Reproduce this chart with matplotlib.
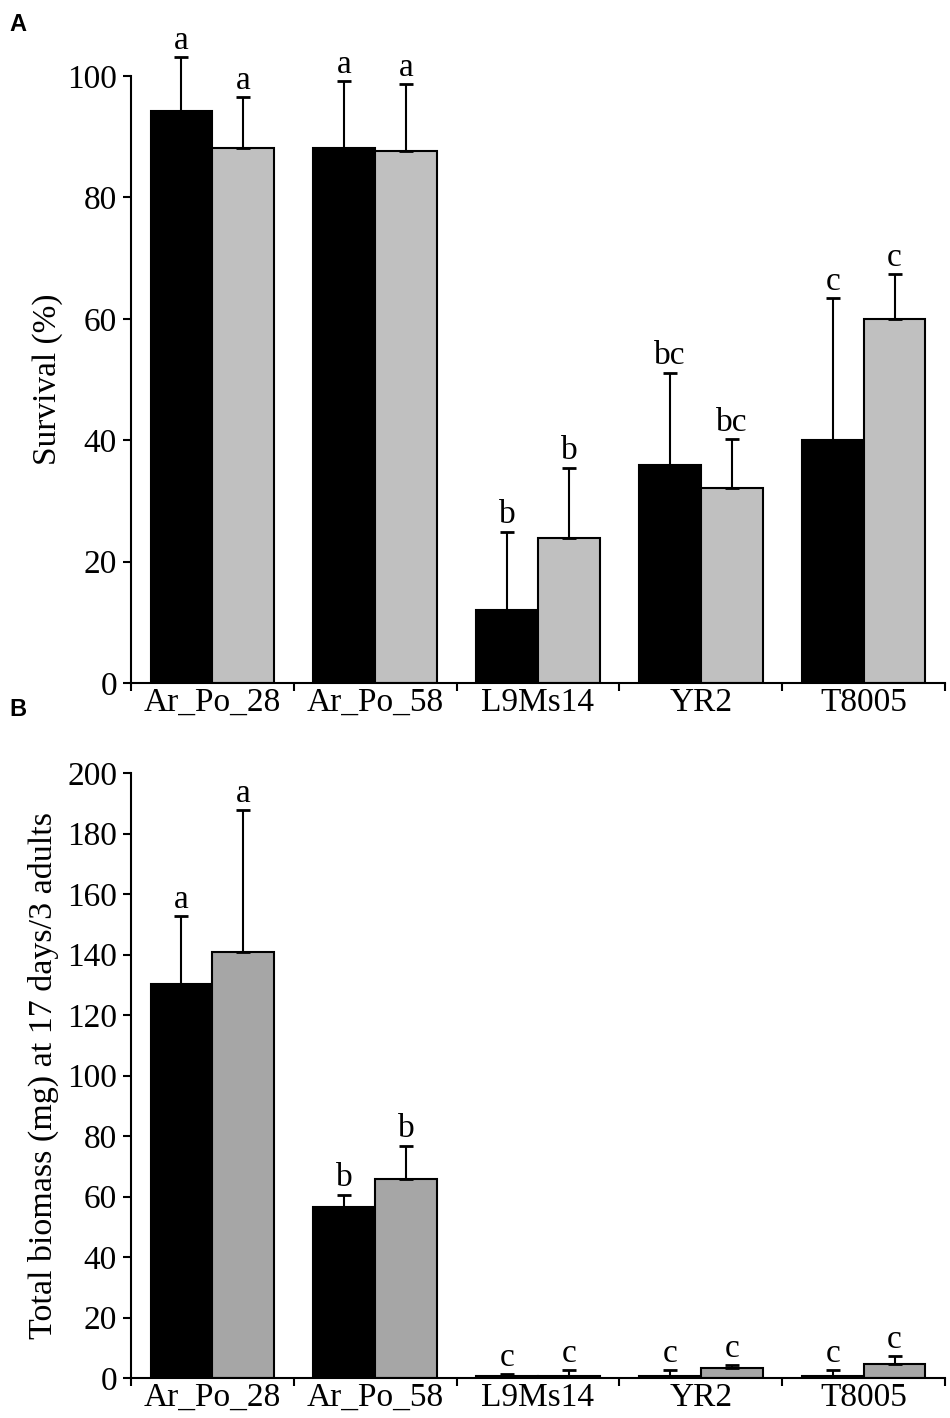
import matplotlib
matplotlib.use("Agg")
import matplotlib.pyplot as plt
import numpy as np

strains = ['Ar_Po_28', 'Ar_Po_58', 'L9Ms14', 'YR2', 'T8005']

surv_black = [94.3, 88.1, 12.0, 35.9, 40.0]
surv_black_err = [8.8, 11.0, 12.9, 15.2, 23.4]
surv_grey = [88.1, 87.7, 23.9, 32.1, 60.0]
surv_grey_err = [8.4, 10.9, 11.6, 8.1, 7.3]
surv_black_letters = ['a', 'a', 'b', 'bc', 'c']
surv_grey_letters = ['a', 'a', 'b', 'bc', 'c']

bio_black = [130.2, 56.6, 0.6, 0.8, 0.8]
bio_black_err = [22.5, 4.0, 0.6, 1.7, 1.7]
bio_grey = [140.7, 65.7, 0.8, 3.4, 4.6]
bio_grey_err = [47.1, 11.1, 1.8, 0.9, 2.7]
bio_black_letters = ['a', 'b', 'c', 'c', 'c']
bio_grey_letters = ['a', 'b', 'c', 'c', 'c']

serif = 'Liberation Serif'
plt.rcParams['font.family'] = [serif, 'DejaVu Serif']

W, H = 950, 1418
fig = plt.figure(figsize=(W / 100, H / 100), dpi=100)

axA = fig.add_axes([131 / W, 1 - 683 / H, (945 - 131) / W, (683 - 76) / H])
axB = fig.add_axes([131 / W, 1 - 1378 / H, (945 - 131) / W, (1378 - 773) / H])


def draw(ax, black, berr, grey, gerr, bl, gl, greycol, ymax, ystep, ylabel, labelpad, ylsize):
    x = np.arange(len(strains))
    w = 0.38
    ax.bar(x - w / 2, black, w, color='black', edgecolor='black', linewidth=1.5, zorder=2)
    ax.bar(x + w / 2, grey, w, color=greycol, edgecolor='black', linewidth=1.5, zorder=2)
    for xs, vals, errs, labs in [(x - w / 2, black, berr, bl), (x + w / 2, grey, gerr, gl)]:
        eb = ax.errorbar(xs, vals, yerr=[np.zeros(len(vals)), errs], fmt='none',
                         ecolor='black', elinewidth=1.5, capsize=5, capthick=2, zorder=3)
        for art in eb.get_children():
            art.set_clip_on(False)
        for xi, v, e, lab in zip(xs, vals, errs, labs):
            ax.annotate(lab, (xi, v + e), xytext=(0, 1), textcoords='offset points',
                        ha='center', va='bottom', fontsize=24, annotation_clip=False)
    ax.set_xlim(-0.5, len(strains) - 0.5)
    ax.set_ylim(0, ymax)
    ax.set_yticks(np.arange(0, ymax + 1, ystep))
    ax.set_xticks(x)
    ax.set_xticklabels(strains, fontsize=24)
    ax.set_xticks(np.arange(-0.5, len(strains), 1.0), minor=True)
    ax.tick_params(axis='x', which='major', length=0, pad=3)
    ax.tick_params(axis='x', which='minor', length=6, width=1.5, direction='out')
    ax.tick_params(axis='y', which='major', length=6, width=1.5, direction='out',
                   labelsize=24, pad=4)
    for s in ['top', 'right']:
        ax.spines[s].set_visible(False)
    for s in ['left', 'bottom']:
        ax.spines[s].set_linewidth(1.5)
    ax.set_ylabel(ylabel, fontsize=ylsize, labelpad=labelpad)


draw(axA, surv_black, surv_black_err, surv_grey, surv_grey_err,
     surv_black_letters, surv_grey_letters, '#c0c0c0', 100, 20, 'Survival (%)', 3, 24)
draw(axB, bio_black, bio_black_err, bio_grey, bio_grey_err,
     bio_black_letters, bio_grey_letters, '#a6a6a6', 200, 20,
     'Total biomass (mg) at 17 days/3 adults', 6, 24.5)

fig.text(9 / W, 1 - 31 / H, 'A', fontfamily='Liberation Sans', fontweight='bold',
         fontsize=17, va='baseline', ha='left')
fig.text(9 / W, 1 - 716 / H, 'B', fontfamily='Liberation Sans', fontweight='bold',
         fontsize=17, va='baseline', ha='left')

fig.savefig('out.png', dpi=100)
